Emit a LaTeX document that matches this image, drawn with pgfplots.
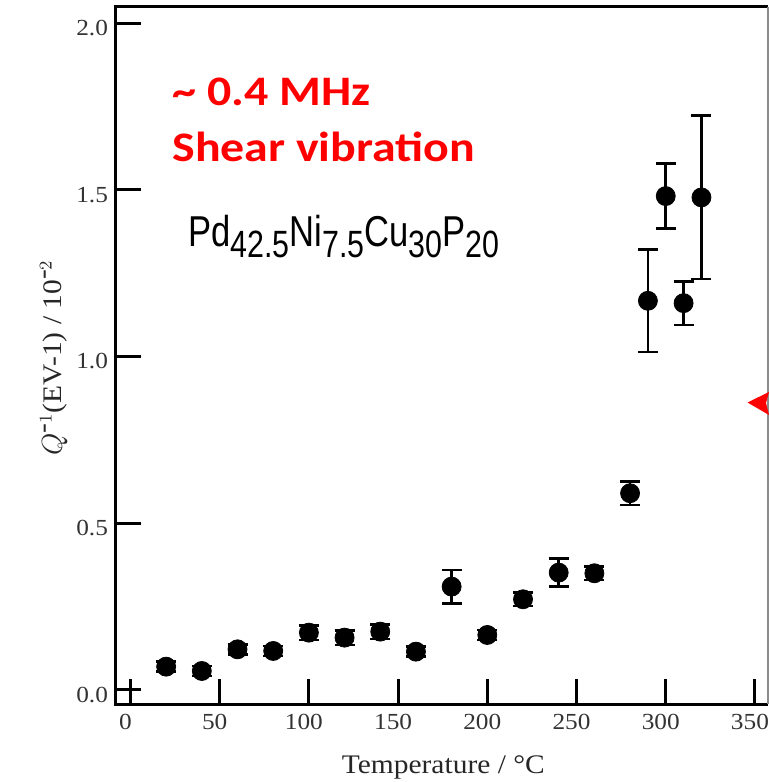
\documentclass[border=0pt]{standalone}
\usepackage{fontspec}
\setmainfont{Liberation Serif}[FakeStretch=1.1]
\newfontfamily\calibri{Carlito}[FakeStretch=1.14]
\newfontfamily\narrow[FakeStretch=0.8]{Liberation Sans}
\usepackage{pgfplots}
\pgfplotsset{compat=1.18}
\usepackage{pgfplotstable}
\pgfplotstableread{
x y e
20 0.070 0.015
40 0.057 0.015
60 0.122 0.015
80 0.117 0.015
100 0.172 0.022
120 0.157 0.022
140 0.175 0.022
160 0.115 0.015
180 0.310 0.050
200 0.165 0.015
220 0.272 0.020
240 0.352 0.042
260 0.350 0.020
280 0.590 0.035
290 1.167 0.153
300 1.481 0.097
310 1.160 0.065
320 1.477 0.245
}\datatable
\begin{document}
\begin{tikzpicture}[x=0.5pt,y=0.5pt]
\useasboundingbox (0,0) rectangle (769,782);
\begin{axis}[
  at={(58pt,39pt)}, anchor=south west,
  scale only axis, width=326pt, height=348.5pt,
  xmin=-8.1, xmax=357.3, ymin=-0.042, ymax=2.048,
  axis line style={draw=none},
  clip=false,
  xtick={0,50,...,350}, ytick={0,0.5,...,2.0},
  xtick pos=bottom, ytick pos=left,
  tick align=inside,
  major tick length=12.5pt,
  minor tick num=0,
  every tick/.style={black, line width=1.5pt},
  /pgf/number format/assume math mode=true,
  yticklabel style={/pgf/number format/fixed, /pgf/number format/fixed zerofill, /pgf/number format/precision=1, xshift=-0.5pt, yshift=-2.5pt},
  ticklabel style={font=\fontsize{11.5}{13}\selectfont, text=black!80},
  xticklabel style={yshift=-1.5pt, xshift=-2.5pt},
  xlabel={Temperature / °C},
  ylabel={$Q^{\mbox{-}1}$(EV-1) / 10$^{\mbox{-}2}$},
  label style={font=\fontsize{13.4}{15}\selectfont, text=black!85},
  xlabel style={at={(rel axis cs:0.502,0)}, anchor=base, yshift=-34.5pt},
  ylabel style={at={(rel axis cs:0,0.497)}, anchor=base, yshift=27pt},
]
\draw[line width=1.5pt, black] (rel axis cs:1,1) -- (rel axis cs:0,1) -- (rel axis cs:0,0) -- (rel axis cs:1,0);
\draw[line width=0.6pt, black!45] (rel axis cs:1,0) -- (rel axis cs:1,1);
\addplot[only marks, mark=*, mark size=4.75pt, black,
  error bars/.cd, y dir=both, y explicit,
  error bar style={line width=1.3pt, black},
  error mark options={rotate=90, line width=1.3pt, mark size=5pt, black}]
  table[x=x, y=y, y error=e] {\datatable};
\end{axis}
\fill[red] (747.5,782-402.5) -- (769,782-392) -- (766,782-403) -- (769,782-415) -- cycle;
\node[anchor=base west, inner sep=0, text=red, font=\calibri\bfseries\fontsize{21}{23}\selectfont] at (172,782-105.5) {\textasciitilde\ 0.4 MHz};
\node[anchor=base west, inner sep=0, text=red, font=\calibri\bfseries\fontsize{21}{23}\selectfont] at (172,782-161.7) {Shear vibration};
\node[anchor=base west, inner sep=0, font=\narrow\fontsize{21.6}{24}\selectfont] at (188,782-246.7) {Pd\raisebox{-5.5pt}{\fontsize{19}{20}\selectfont 42.5}Ni\raisebox{-5.5pt}{\fontsize{19}{20}\selectfont 7.5}Cu\raisebox{-5.5pt}{\fontsize{19}{20}\selectfont 30}P\raisebox{-5.5pt}{\fontsize{19}{20}\selectfont 20}};
\end{tikzpicture}
\end{document}
